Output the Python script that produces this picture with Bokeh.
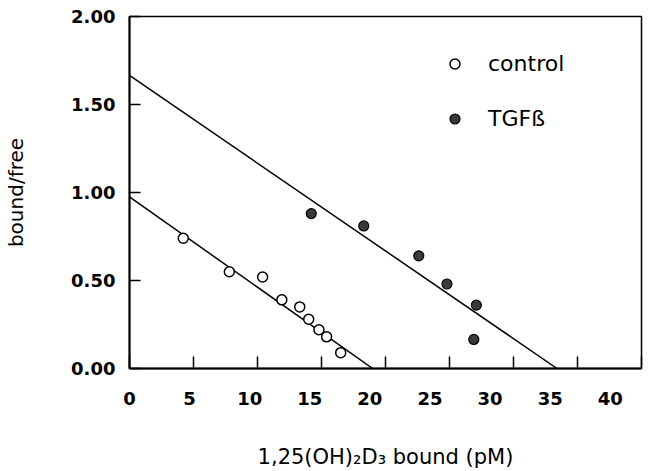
from bokeh.plotting import figure
from bokeh.models import (Range1d, LinearAxis, FixedTicker, PrintfTickFormatter,
                          Legend, LegendItem)
from bokeh.embed import file_html
from bokeh.resources import INLINE

# ---- data ----
ctrl_x = [4.2, 7.8, 10.4, 11.9, 13.3, 14.0, 14.8, 15.4, 16.5]
ctrl_y = [0.74, 0.55, 0.52, 0.39, 0.35, 0.28, 0.22, 0.18, 0.09]
tgf_x = [14.2, 18.3, 22.6, 24.8, 27.1, 26.9]
tgf_y = [0.88, 0.81, 0.64, 0.48, 0.36, 0.165]

ctrl_fit_x = [0.0, 19.0]
ctrl_fit_y = [0.975, 0.0]
tgf_fit_x = [0.0, 33.4]
tgf_fit_y = [1.665, 0.0]

x_ticks = [0, 5, 10, 15, 20, 25, 30, 35, 40]
y_ticks = [0.0, 0.5, 1.0, 1.5, 2.0]
x_title = "1,25(OH)\u2082D\u2083 bound (pM)"
y_title = "bound/free"
series_names = ["control", "TGF\u00df"]

# tick labels in the original are printed slightly compressed versus the tick marks
label_axis_end = 42.6
# the x title in the original sits a little right of the frame centre
title_span = (20.5, 21.5)

TICK_FONT = "DejaVu Sans"
W, H = 647, 471

p = figure(width=W, height=H, x_range=Range1d(0, 40), y_range=Range1d(0, 2),
           output_backend="svg", toolbar_location=None,
           min_border_left=129, min_border_right=6, min_border_top=16,
           min_border_bottom=103)
p.grid.visible = False
p.background_fill_color = "white"
p.border_fill_color = "white"
p.outline_line_color = "black"
p.outline_line_width = 1.5
p.outline_line_alpha = 1.0

# bottom axis carrying only the tick marks
xa = p.xaxis[0]
xa.ticker = FixedTicker(ticks=x_ticks)
xa.major_tick_in = 12
xa.major_tick_out = 0
xa.major_tick_line_width = 1.5
xa.minor_tick_line_color = None
xa.axis_line_width = 2
xa.major_label_text_font_size = "0px"
xa.major_label_text_alpha = 0
xa.major_label_standoff = 0

# bottom axis carrying the printed labels
p.extra_x_ranges = {"lab": Range1d(0, label_axis_end)}
lab = LinearAxis(x_range_name="lab", ticker=FixedTicker(ticks=x_ticks))
lab.major_tick_in = 0
lab.major_tick_out = 0
lab.minor_tick_line_color = None
lab.axis_line_color = None
lab.major_label_standoff = 23
lab.major_label_text_font = TICK_FONT
lab.major_label_text_font_style = "bold"
lab.major_label_text_font_size = "18px"
lab.major_label_text_color = "black"
p.add_layout(lab, "below")

# bottom axis carrying only the axis title
ttl = LinearAxis(ticker=FixedTicker(ticks=[]), bounds=title_span)
ttl.major_tick_in = 0
ttl.major_tick_out = 0
ttl.minor_tick_line_color = None
ttl.axis_line_color = None
ttl.major_label_standoff = 0
ttl.axis_label = x_title
ttl.axis_label_text_font = "DejaVu Sans"
ttl.axis_label_text_font_style = "normal"
ttl.axis_label_text_font_size = "21px"
ttl.axis_label_text_color = "black"
ttl.axis_label_standoff = 37
p.add_layout(ttl, "below")

ya = p.yaxis[0]
ya.ticker = FixedTicker(ticks=y_ticks)
ya.formatter = PrintfTickFormatter(format="%.2f")
ya.major_tick_in = 11
ya.major_tick_out = 0
ya.major_tick_line_width = 1.5
ya.minor_tick_line_color = None
ya.axis_line_width = 2
ya.major_label_standoff = 14
ya.major_label_text_font = TICK_FONT
ya.major_label_text_font_style = "bold"
ya.major_label_text_font_size = "18px"
ya.major_label_text_color = "black"
ya.axis_label = y_title
ya.axis_label_text_font = "DejaVu Sans"
ya.axis_label_text_font_style = "normal"
ya.axis_label_text_font_size = "20px"
ya.axis_label_text_color = "black"
ya.axis_label_standoff = 40

p.line(ctrl_fit_x, ctrl_fit_y, line_color="black", line_width=1.5)
p.line(tgf_fit_x, tgf_fit_y, line_color="black", line_width=1.5)

r_ctrl = p.scatter(ctrl_x, ctrl_y, marker="circle", size=10, fill_color="white",
                   line_color="black", line_width=1.5)
r_tgf = p.scatter(tgf_x, tgf_y, marker="circle", size=10, fill_color="#3a3a3a",
                  line_color="black", line_width=1.2)

legend = Legend(items=[LegendItem(label=series_names[0], renderers=[r_ctrl]),
                       LegendItem(label=series_names[1], renderers=[r_tgf])],
                location=(313, 237), orientation="vertical")
legend.border_line_color = None
legend.background_fill_alpha = 0
legend.padding = 0
legend.margin = 0
legend.spacing = 30
legend.glyph_width = 25
legend.glyph_height = 25
legend.label_standoff = 21
legend.label_text_font = "DejaVu Sans"
legend.label_text_font_size = "22px"
legend.label_text_color = "black"
p.add_layout(legend, "center")

open("out.html", "w").write(file_html(p, INLINE))
